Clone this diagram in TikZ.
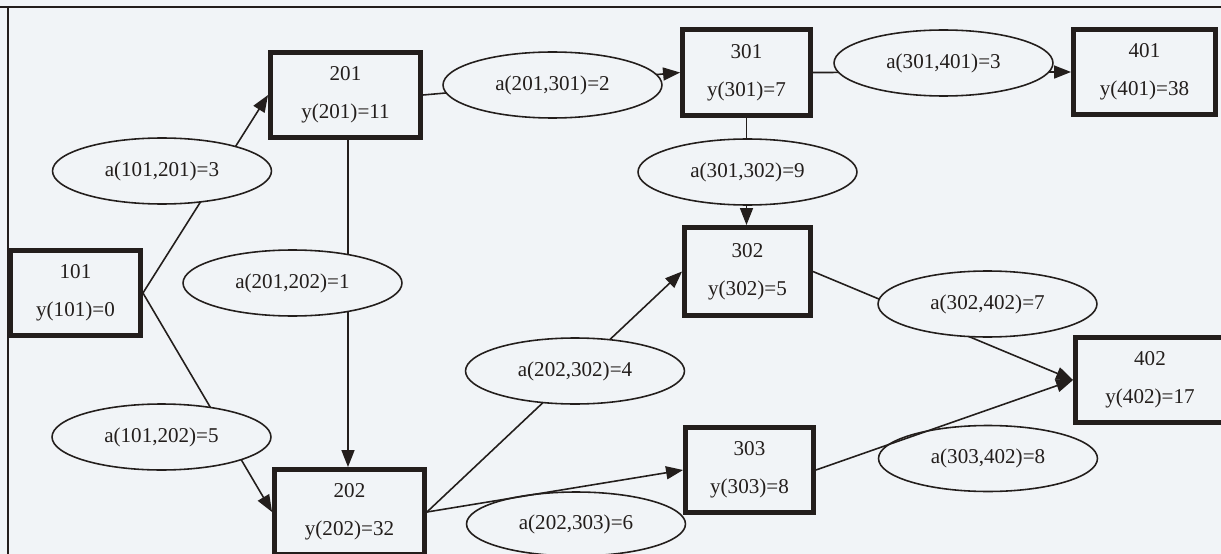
\documentclass[tikz,border=0pt]{standalone}
\usepackage{fontspec}
\setmainfont{Liberation Serif}
\usetikzlibrary{arrows.meta,shapes.geometric}
\definecolor{bgc}{RGB}{241,244,247}
\definecolor{ink}{RGB}{35,30,28}
\begin{document}
\begin{tikzpicture}[x=0.02cm,y=-0.02cm,
  txt/.style={font=\fontsize{12}{14.4}\selectfont, text=ink},
  box/.style={txt, draw=ink, line width=2.8pt, fill=bgc, align=center, inner sep=0pt, minimum height=1.7cm},
  lab/.style={txt, ellipse, draw=ink, line width=0.9pt, fill=bgc, inner sep=0pt, minimum width=4.38cm, minimum height=1.32cm},
  link/.style={draw=ink, line width=0.9pt},
  arr/.style={link, -{Triangle[length=3.4mm,width=2.6mm]}}]
\path[use as bounding box] (0,0) rectangle (1221,554);
\clip (0,0) rectangle (1221,554);
\fill[bgc] (0,0) rectangle (1221,554);
\draw[ink, line width=1.1pt] (0,7) -- (1221,7);
\draw[ink, line width=1.1pt] (8,7) -- (8,554);
% boxes
\node[box, minimum width=2.6cm] (b101) at (75.5,293) {101\\[7pt]y(101)=0};
\node[box, minimum width=3.0cm] (b201) at (345.5,95) {201\\[7pt]y(201)=11};
\node[box, minimum width=3.0cm] (b202) at (349.5,512) {202\\[7pt]y(202)=32};
\node[box, minimum width=2.56cm, minimum height=1.72cm] (b301) at (746.5,72.5) {301\\[7pt]y(301)=7};
\node[box, minimum width=2.52cm, minimum height=1.76cm] (b302) at (747.5,271.5) {302\\[7pt]y(302)=5};
\node[box, minimum width=2.56cm] (b303) at (749.5,470) {303\\[7pt]y(303)=8};
\node[box, minimum width=2.84cm] (b401) at (1144.5,72) {401\\[7pt]y(401)=38};
\node[box, minimum width=2.98cm] (b402) at (1150,380) {402\\[7pt]y(402)=17};
% connectors
\draw[arr] (b101.east) -- (b201.west);
\draw[arr] (b101.east) -- (b202.west);
\draw[arr] (b201.south -| 348,0) -- (b202.north -| 348,0);
\draw[arr] (b201.east) -- (b301.west);
\draw[arr] (b301.east) -- (b401.west);
\draw[arr] (b301.south) -- (b301.south |- b302.north);
\draw[arr] (b202.east) -- (b302.west);
\draw[arr] (b302.east) -- (b402.west);
% labels
\node[lab] (e1) at (162,171) {a(101,201)=3};
\node[lab] (e2) at (292.5,283) {a(201,202)=1};
\node[lab] (e3) at (552.5,85) {a(201,301)=2};
\node[lab] (e4) at (943.5,63) {a(301,401)=3};
\node[lab] (e5) at (747.5,172) {a(301,302)=9};
\node[lab] (e6) at (575,371) {a(202,302)=4};
\node[lab] (e7) at (161.5,437) {a(101,202)=5};
\node[lab, minimum height=1.28cm] (e8) at (576,524) {a(202,303)=6};
\node[lab] (e9) at (987.5,304) {a(302,402)=7};
\node[lab] (e10) at (988,458.5) {a(303,402)=8};
% connectors drawn over labels
\draw[arr] (b202.east) -- (b303.west);
\draw[arr] (b303.east) -- (b402.west);
\end{tikzpicture}
\end{document}
